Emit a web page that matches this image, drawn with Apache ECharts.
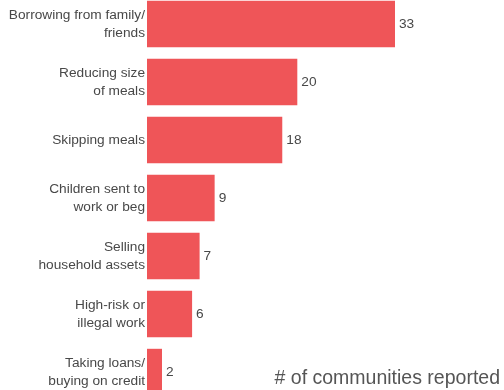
<!DOCTYPE html>
<html><head><meta charset="utf-8">
<script src="https://cdn.jsdelivr.net/npm/echarts@6/dist/echarts.min.js"></script>
<style>html,body{margin:0;padding:0;background:#fff;overflow:hidden;width:504px;height:390px}#c{width:504px;height:406px;margin-top:-5px}</style>
</head><body><div id="c"></div>
<script>
const categories = ["Borrowing from family/\nfriends","Reducing size\nof meals","Skipping meals","Children sent to\nwork or beg","Selling\nhousehold assets","High-risk or\nillegal work","Taking loans/\nbuying on credit"];
const values = [33,20,18,9,7,6,2];
const axisTitle = "# of communities reported";
const chart = echarts.init(document.getElementById('c'));
chart.setOption({
  animation:false,
  grid:{left:147, top:0, width:248, height:406, containLabel:false},
  xAxis:{type:'value', min:0, max:33, show:false},
  yAxis:{type:'category', data:categories, inverse:true,
    axisLine:{show:false}, axisTick:{show:false},
    axisLabel:{color:'#484848', fontSize:13.7, fontFamily:'Liberation Sans, Arial, sans-serif', lineHeight:18, margin:2, align:'right'}},
  series:[{type:'bar', data:values, barCategoryGap:'20%',
    itemStyle:{color:'#ef5558'},
    label:{show:true, position:'right', distance:4, color:'#484848', fontSize:13.7, fontFamily:'Liberation Sans, Arial, sans-serif'}}],
  graphic:[{type:'text', right:4, top:374, style:{text:axisTitle, fontSize:19.5, fill:'#555', fontFamily:'Liberation Sans, Arial, sans-serif'}}]
});
</script></body></html>
